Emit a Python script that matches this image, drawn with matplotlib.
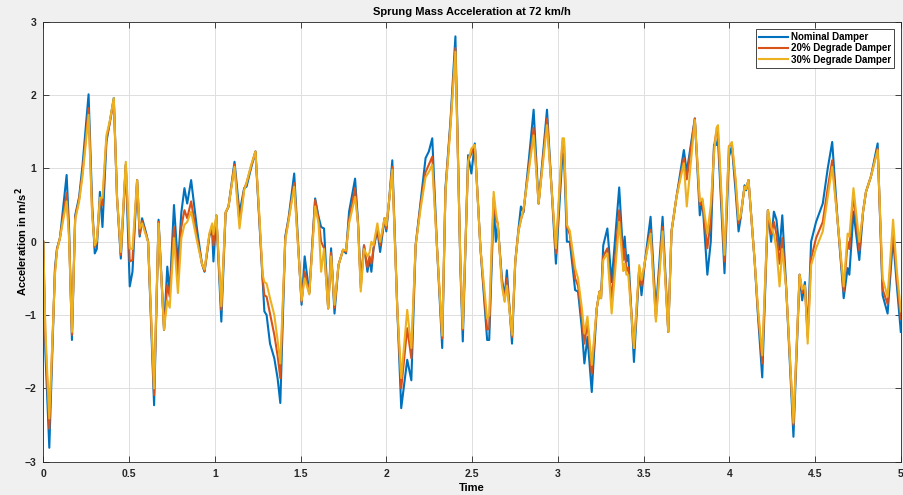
import matplotlib
matplotlib.use("Agg")
import matplotlib.pyplot as plt
import numpy as np

# Time samples (s) and sprung mass acceleration (m/s^2) for each damper condition
time_s = [
    0.000, 0.012, 0.035, 0.068, 0.080, 0.097, 0.136, 0.150, 0.167, 0.186,
    0.209, 0.229, 0.264, 0.285, 0.300, 0.312, 0.330, 0.345, 0.368, 0.388,
    0.411, 0.430, 0.452, 0.481, 0.504, 0.520, 0.547, 0.562, 0.576, 0.597,
    0.611, 0.646, 0.672, 0.704, 0.723, 0.737, 0.762, 0.785, 0.805, 0.823,
    0.839, 0.862, 0.897, 0.925, 0.940, 0.969, 0.985, 0.992, 1.009, 1.038,
    1.063, 1.080, 1.115, 1.144, 1.171, 1.185, 1.211, 1.237, 1.260, 1.279,
    1.289, 1.302, 1.322, 1.347, 1.366, 1.382, 1.411, 1.430, 1.463, 1.506,
    1.524, 1.551, 1.585, 1.605, 1.620, 1.637, 1.661, 1.678, 1.698, 1.721,
    1.748, 1.765, 1.783, 1.818, 1.835, 1.851, 1.870, 1.890, 1.902, 1.913,
    1.925, 1.948, 1.964, 1.990, 2.000, 2.016, 2.035, 2.064, 2.087, 2.122,
    2.146, 2.171, 2.200, 2.229, 2.248, 2.268, 2.296, 2.326, 2.345, 2.374,
    2.403, 2.432, 2.446, 2.477, 2.496, 2.516, 2.549, 2.588, 2.600, 2.626,
    2.639, 2.650, 2.674, 2.690, 2.703, 2.733, 2.752, 2.771, 2.785, 2.800,
    2.830, 2.859, 2.888, 2.937, 2.989, 3.027, 3.036, 3.053, 3.070, 3.101,
    3.118, 3.140, 3.155, 3.173, 3.198, 3.227, 3.243, 3.252, 3.265, 3.289,
    3.314, 3.358, 3.382, 3.390, 3.400, 3.411, 3.444, 3.475, 3.488, 3.508,
    3.541, 3.572, 3.611, 3.644, 3.663, 3.692, 3.735, 3.752, 3.799, 3.828,
    3.843, 3.872, 3.892, 3.911, 3.925, 3.934, 3.972, 3.998, 4.015, 4.037,
    4.054, 4.066, 4.089, 4.098, 4.112, 4.148, 4.167, 4.192, 4.225, 4.244,
    4.260, 4.275, 4.293, 4.309, 4.332, 4.374, 4.410, 4.425, 4.441, 4.457,
    4.477, 4.506, 4.545, 4.574, 4.600, 4.632, 4.667, 4.690, 4.700, 4.724,
    4.758, 4.780, 4.797, 4.826, 4.865, 4.894, 4.923, 4.955, 4.977, 5.000,
]

nominal_damper = [
    0.00, -1.50, -2.81, -0.36, -0.09, 0.05, 0.91, 0.20, -1.34, 0.36,
    0.61, 1.05, 2.01, 0.50, -0.16, -0.10, 0.68, 0.20, 1.36, 1.64,
    1.96, 0.60, -0.23, 1.05, -0.61, -0.41, 0.84, 0.07, 0.32, 0.14,
    0.00, -2.23, 0.30, -1.20, -0.34, -0.70, 0.50, -0.32, 0.40, 0.73,
    0.52, 0.84, 0.16, -0.30, -0.41, 0.09, 0.12, -0.27, 0.36, -1.09,
    0.39, 0.48, 1.09, 0.39, 0.73, 0.75, 1.00, 1.23, 0.27, -0.50,
    -0.95, -1.00, -1.39, -1.59, -1.86, -2.20, 0.07, 0.32, 0.93, -0.86,
    -0.20, -0.70, 0.59, 0.34, 0.20, 0.18, -0.91, -0.09, -0.98, -0.32,
    -0.11, -0.16, 0.41, 0.86, 0.27, -0.57, -0.05, -0.41, -0.23, -0.41,
    -0.10, 0.16, -0.14, 0.32, 0.14, 0.55, 1.11, -0.91, -2.27, -1.61,
    -1.89, -0.05, 0.55, 1.14, 1.23, 1.41, -0.09, -1.45, 0.73, 1.64,
    2.80, -0.36, -1.36, 1.18, 0.93, 1.34, -0.09, -1.34, -1.34, 0.50,
    0.00, 0.23, -0.50, -0.75, -0.39, -1.39, -0.27, 0.18, 0.48, 0.40,
    1.09, 1.80, 0.52, 1.80, -0.30, 1.18, 1.20, 0.00, 0.00, -0.66,
    -0.68, -1.18, -1.66, -1.30, -2.05, -0.91, -0.68, -0.77, -0.05, 0.18,
    -0.55, 0.74, -0.23, 0.07, -0.27, -0.18, -1.64, -0.36, -0.73, -0.27,
    0.34, -0.95, 0.34, -1.23, 0.14, 0.61, 1.25, 0.95, 1.68, 0.36,
    0.57, -0.45, 0.00, 1.32, 1.32, 1.40, -0.43, 1.16, 1.30, 0.68,
    0.14, 0.32, 0.77, 0.70, 0.84, -0.27, -1.00, -1.85, 0.43, 0.00,
    0.41, 0.30, -0.11, 0.36, -0.64, -2.66, -0.45, -0.80, -0.55, -1.27,
    0.00, 0.27, 0.52, 1.00, 1.36, 0.27, -0.77, -0.36, -0.45, 0.41,
    -0.25, 0.41, 0.68, 0.89, 1.34, -0.73, -0.98, 0.05, -0.60, -1.23,
]

degrade_20 = [
    0.00, -1.30, -2.55, -0.40, -0.10, 0.05, 0.66, 0.10, -1.27, 0.33,
    0.58, 0.95, 1.82, 0.40, -0.07, 0.00, 0.55, 0.50, 1.40, 1.62,
    1.93, 0.60, -0.18, 1.05, -0.27, -0.25, 0.84, 0.10, 0.28, 0.12,
    0.00, -2.09, 0.27, -1.20, -0.59, -0.75, 0.20, -0.50, 0.20, 0.43,
    0.32, 0.55, 0.05, -0.30, -0.40, 0.10, 0.20, -0.05, 0.35, -0.93,
    0.40, 0.48, 1.05, 0.25, 0.72, 0.80, 1.02, 1.23, 0.30, -0.50,
    -0.73, -0.75, -0.98, -1.27, -1.55, -1.86, 0.05, 0.30, 0.80, -0.82,
    -0.41, -0.70, 0.57, 0.30, 0.00, -0.09, -0.91, -0.15, -0.90, -0.32,
    -0.11, -0.14, 0.30, 0.73, 0.25, -0.63, -0.05, -0.35, -0.20, -0.30,
    -0.10, 0.20, -0.05, 0.32, 0.18, 0.55, 1.02, -0.91, -2.00, -1.18,
    -1.59, -0.05, 0.50, 0.95, 1.05, 1.16, -0.09, -1.32, 0.70, 1.60,
    2.64, -0.30, -1.20, 1.10, 1.20, 1.32, -0.09, -1.20, -1.18, 0.60,
    0.30, 0.25, -0.55, -0.80, -0.50, -1.30, -0.27, 0.15, 0.30, 0.42,
    1.00, 1.55, 0.52, 1.68, -0.16, 1.35, 1.38, 0.20, 0.10, -0.50,
    -0.60, -1.05, -1.39, -1.10, -1.80, -0.91, -0.68, -0.77, -0.20, -0.09,
    -0.80, 0.43, -0.25, -0.10, -0.40, -0.35, -1.45, -0.36, -0.60, -0.27,
    0.16, -1.05, 0.20, -1.23, 0.14, 0.61, 1.14, 0.85, 1.68, 0.50,
    0.55, -0.09, 0.30, 1.30, 1.50, 1.50, -0.27, 1.30, 1.34, 0.80,
    0.25, 0.35, 0.75, 0.72, 0.84, -0.27, -0.95, -1.66, 0.43, 0.10,
    0.27, 0.10, -0.30, 0.05, -0.64, -2.50, -0.45, -0.70, -0.60, -1.30,
    -0.23, 0.05, 0.27, 0.73, 1.11, 0.27, -0.68, 0.00, -0.10, 0.65,
    -0.12, 0.41, 0.68, 0.89, 1.27, -0.65, -0.85, 0.16, -0.50, -1.05,
]

degrade_30 = [
    0.00, -1.20, -2.41, -0.45, -0.12, 0.05, 0.55, 0.05, -1.23, 0.30,
    0.55, 0.90, 1.73, 0.35, -0.05, 0.02, 0.60, 0.60, 1.45, 1.65,
    1.96, 0.60, -0.14, 1.09, -0.09, -0.10, 0.84, 0.18, 0.25, 0.10,
    0.00, -2.00, 0.25, -1.20, -0.80, -0.90, 0.05, -0.70, 0.05, 0.23,
    0.27, 0.41, 0.00, -0.30, -0.38, 0.12, 0.25, 0.10, 0.36, -0.88,
    0.40, 0.48, 1.02, 0.18, 0.70, 0.80, 1.04, 1.23, 0.35, -0.45,
    -0.55, -0.57, -0.77, -1.00, -1.34, -1.66, 0.02, 0.28, 0.75, -0.80,
    -0.50, -0.72, 0.48, 0.25, -0.41, -0.10, -0.91, -0.20, -0.86, -0.32,
    -0.11, -0.12, 0.25, 0.61, 0.25, -0.68, -0.10, -0.20, -0.15, 0.00,
    -0.05, 0.25, 0.00, 0.32, 0.22, 0.55, 0.98, -0.91, -1.86, -0.93,
    -1.45, -0.05, 0.45, 0.88, 0.95, 1.05, -0.09, -1.28, 0.68, 1.55,
    2.59, -0.28, -1.18, 1.09, 1.27, 1.32, -0.09, -1.05, -1.00, 0.68,
    0.40, 0.25, -0.60, -0.82, -0.60, -1.27, -0.27, 0.15, 0.30, 0.45,
    0.95, 1.45, 0.52, 1.59, -0.09, 1.41, 1.41, 0.23, 0.15, -0.36,
    -0.50, -0.90, -1.25, -1.02, -1.68, -0.91, -0.68, -0.77, -0.25, -0.16,
    -0.98, 0.27, -0.40, -0.30, -0.45, -0.45, -1.45, -0.32, -0.52, -0.27,
    0.11, -1.09, 0.14, -1.23, 0.14, 0.61, 1.07, 0.48, 1.66, 0.55,
    0.59, 0.11, 0.50, 1.20, 1.55, 1.59, -0.18, 1.30, 1.36, 0.85,
    0.30, 0.35, 0.75, 0.72, 0.84, -0.27, -0.90, -1.55, 0.43, 0.20,
    0.10, -0.10, -0.61, -0.10, -0.64, -2.47, -0.45, -0.65, -0.60, -1.39,
    -0.32, -0.09, 0.14, 0.61, 1.02, 0.27, -0.61, 0.11, 0.07, 0.73,
    0.00, 0.41, 0.68, 0.89, 1.25, -0.50, -0.75, 0.30, -0.40, -0.95,
]

series_labels = ["Nominal Damper", "20% Degrade Damper", "30% Degrade Damper"]
series_colors = ["#0072BD", "#D95319", "#EDB120"]
x_ticks = [0, 0.5, 1, 1.5, 2, 2.5, 3, 3.5, 4, 4.5, 5]
x_tick_labels = ["0", "0.5", "1", "1.5", "2", "2.5", "3", "3.5", "4", "4.5", "5"]
y_ticks = [-3, -2, -1, 0, 1, 2, 3]

plt.rcParams["font.family"] = ["Liberation Sans", "DejaVu Sans"]
plt.rcParams["font.weight"] = "bold"

fig = plt.figure(figsize=(9.04, 4.95), dpi=100, facecolor="#f0f0f0")
ax = fig.add_axes([43.3 / 904, 1 - 461.7 / 495, 857.5 / 904, 440.0 / 495])
ax.set_facecolor("white")

for values, label, color in zip([nominal_damper, degrade_20, degrade_30],
                                series_labels, series_colors):
    ax.plot(time_s, values, color=color, linewidth=1.5, label=label,
            solid_joinstyle="round")

ax.set_xlim(0, 5)
ax.set_ylim(-3, 3)
ax.set_xticks(x_ticks)
ax.set_xticklabels(x_tick_labels)
ax.set_yticks(y_ticks)
ax.tick_params(direction="in", length=4, width=0.6, labelsize=7.5,
               colors="#262626", top=True, right=True, pad=5)
for lbl in ax.get_xticklabels() + ax.get_yticklabels():
    lbl.set_fontweight("bold")
ax.grid(True, color="#dedede", linewidth=0.7)
ax.set_axisbelow(True)
for spine in ax.spines.values():
    spine.set_color("#262626")
    spine.set_linewidth(0.6)

ax.set_title("Sprung Mass Acceleration at 72 km/h", fontsize=8,
             fontweight="bold", pad=5)
ax.set_xlabel("Time", fontsize=8, fontweight="bold", labelpad=3)
ax.set_ylabel("Acceleration in m/s$^\\mathbf{2}$", fontsize=8,
              fontweight="bold", labelpad=-4)

leg = ax.legend(loc="upper right", bbox_to_anchor=(894 / 904, 1 - 29 / 495),
                bbox_transform=fig.transFigure,
                prop={"weight": "bold", "size": 7}, frameon=True,
                fancybox=False, edgecolor="#262626", framealpha=1,
                handlelength=3.0, handletextpad=0.3, borderpad=0.3,
                labelspacing=0.15, borderaxespad=0)
leg.get_frame().set_linewidth(0.6)

fig.savefig("out.png", dpi=100, facecolor=fig.get_facecolor())
